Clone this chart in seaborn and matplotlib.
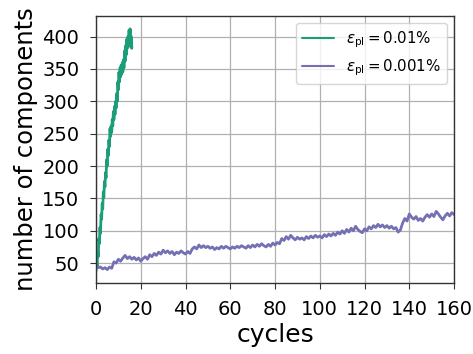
import numpy as np
import pandas as pd
import matplotlib
matplotlib.use("Agg")
import matplotlib.pyplot as plt
import seaborn as sns

# ---- data ----
green_cycles = np.arange(0, 16.01, 0.25)
green_values = [38, 52, 45, 68, 60, 88, 80, 105, 96, 125, 118, 142, 134, 160, 152, 176,
                168, 190, 182, 210, 200, 226, 216, 240, 230, 258, 246, 262, 252, 272, 262, 284,
                272, 292, 280, 300, 290, 312, 300, 330, 318, 345, 330, 352, 338, 356, 342, 360,
                346, 364, 352, 378, 362, 386, 372, 396, 382, 400, 388, 410, 396, 412, 384, 400,
                382]

purple_cycles = np.arange(0, 161, 1)
purple_values = [45, 43, 44, 41, 43, 40, 44, 42, 52, 50, 56, 53, 58, 62, 57, 60,
                 56, 59, 55, 58, 53, 57, 60, 56, 63, 60, 65, 62, 67, 64, 70, 66,
                 69, 65, 68, 63, 67, 65, 69, 66, 64, 68, 65, 72, 75, 72, 78, 74,
                 77, 74, 76, 73, 75, 71, 74, 72, 76, 73, 76, 74, 72, 75, 73, 76,
                 74, 77, 75, 73, 77, 74, 78, 75, 79, 76, 80, 77, 75, 79, 76, 81,
                 78, 82, 80, 88, 85, 91, 87, 93, 89, 86, 90, 87, 89, 86, 91, 88,
                 92, 89, 93, 90, 92, 89, 94, 91, 95, 92, 96, 93, 98, 95, 100, 96,
                 102, 98, 104, 100, 107, 102, 99, 97, 103, 100, 106, 103, 108, 105, 110, 106,
                 109, 105, 108, 104, 107, 103, 105, 98, 101, 112, 119, 115, 126, 121, 118, 122,
                 116, 119, 115, 121, 125, 121, 126, 122, 130, 126, 121, 117, 123, 127, 123, 128,
                 125]

labels = [r"$\varepsilon_{\rm pl} = 0.01\%$", r"$\varepsilon_{\rm pl} = 0.001\%$"]
colors = ["#1b9e77", "#7570b3"]
xticks = [0, 20, 40, 60, 80, 100, 120, 140, 160]
yticks = [50, 100, 150, 200, 250, 300, 350, 400]

sns.set_style("ticks")
plt.rcParams['font.family'] = ['DejaVu Sans']
plt.rcParams['text.color'] = 'black'
plt.rcParams['axes.labelcolor'] = 'black'
plt.rcParams['xtick.labelcolor'] = 'black'
plt.rcParams['ytick.labelcolor'] = 'black'

fig = plt.figure(figsize=(4.73, 3.54), dpi=100)
ax = fig.add_axes([0.203, 0.200, 0.757, 0.755])

sns.lineplot(x=green_cycles, y=green_values, ax=ax, color=colors[0], label=labels[0],
             linewidth=2.0, estimator=None)
sns.lineplot(x=purple_cycles, y=purple_values, ax=ax, color=colors[1], label=labels[1],
             linewidth=2.0, estimator=None)

ax.set_xlim(0, 160)
ax.set_ylim(19, 432)
ax.set_xticks(xticks)
ax.set_yticks(yticks)
ax.grid(True, color="#b0b0b0", linewidth=0.9)
ax.set_axisbelow(True)
for s in ax.spines.values():
    s.set_visible(True)
    s.set_color("#333333")
    s.set_linewidth(1.0)
ax.tick_params(labelsize=14, length=4, color="#333333", pad=8)
ax.set_xlabel("cycles", fontsize=18, labelpad=3)
ax.set_ylabel("number of components", fontsize=17.5, labelpad=3)
leg = ax.legend(loc="upper right", fontsize=10.8, frameon=True, handlelength=2.1,
                borderaxespad=0.5)
for line in leg.get_lines():
    line.set_linewidth(1.5)

fig.savefig("out.png", dpi=100)
